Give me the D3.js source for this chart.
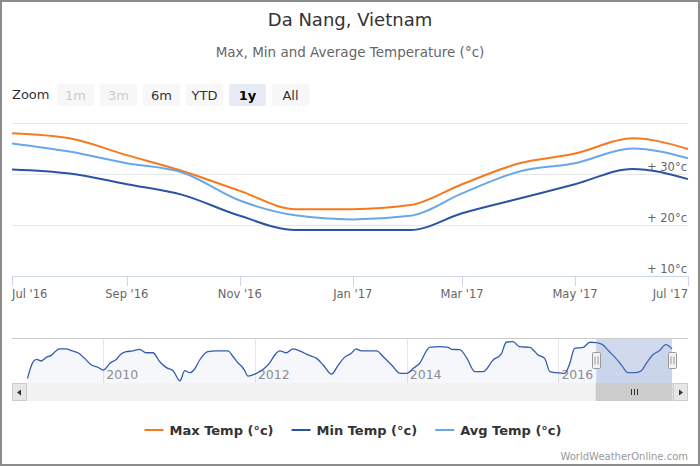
<!DOCTYPE html>
<html>
<head>
<meta charset="utf-8">
<script src="https://cdn.jsdelivr.net/npm/d3@7/dist/d3.min.js"></script>
<style>
  html, body { margin: 0; padding: 0; background: #fff; }
  svg { display: block; font-family: "DejaVu Sans", sans-serif; }
</style>
</head>
<body>
<div id="chart"></div>
<script>
// monthly points shown in the main chart (1y zoom)
const months = ["2016-07-01", "2016-08-01", "2016-09-01", "2016-10-01", "2016-11-01", "2016-12-01",
    "2017-01-01", "2017-02-01", "2017-03-01", "2017-04-01", "2017-05-01", "2017-06-01", "2017-07-01"];
const maxTemp = [38.0, 37.0, 33.7, 30.6, 26.7, 23.1, 23.1, 23.9, 28.0, 32.1, 34.0, 37.0, 34.9];
const minTemp = [30.9, 30.1, 28.0, 25.9, 21.8, 19.0, 19.0, 19.0, 22.3, 25.2, 28.0, 31.0, 29.0];
const avgTemp = [36.0, 34.4, 32.1, 30.3, 24.8, 21.9, 21.1, 21.8, 26.2, 30.5, 32.1, 35.0, 33.1];

// older max temp history, only seen in the navigator
const navDates = ["2009-01-01", "2009-01-28", "2009-02-14", "2009-03-08", "2009-04-01", "2009-04-25",
    "2009-05-19", "2009-06-04", "2009-07-06", "2009-08-01", "2009-09-01", "2009-10-03", "2009-11-05",
    "2009-12-06", "2010-01-01", "2010-02-02", "2010-03-04", "2010-03-28", "2010-04-21", "2010-05-23",
    "2010-06-24", "2010-07-26", "2010-08-28", "2010-09-30", "2010-11-01", "2010-12-03", "2011-01-05",
    "2011-01-28", "2011-02-22", "2011-03-16", "2011-04-10", "2011-05-19", "2011-06-28", "2011-08-24",
    "2011-09-18", "2011-10-13", "2011-10-28", "2011-11-13", "2011-11-28", "2012-01-01", "2012-02-10",
    "2012-03-12", "2012-04-06", "2012-04-30", "2012-06-01", "2012-07-02", "2012-08-12", "2012-09-13",
    "2012-10-24", "2012-11-25", "2013-01-04", "2013-02-05", "2013-03-07", "2013-04-09", "2013-05-01",
    "2013-05-28", "2013-08-09", "2013-09-10", "2013-10-20", "2013-12-01", "2014-01-01", "2014-02-02",
    "2014-03-04", "2014-04-21", "2014-06-09", "2014-07-19", "2014-08-04", "2014-09-13", "2014-10-15",
    "2014-11-25", "2015-01-03", "2015-02-21", "2015-04-01", "2015-04-25", "2015-05-27", "2015-06-28",
    "2015-08-16", "2015-09-25", "2015-10-27", "2015-11-21", "2015-12-22", "2016-02-01", "2016-02-25",
    "2016-03-19", "2016-04-30", "2016-06-01"];
const navValues = [20.3, 28.5, 29.7, 28.9, 30.7, 31.7,
    34.0, 34.9, 34.9, 34.0, 33.0, 30.2, 26.9,
    25.8, 24.4, 27.8, 29.7, 32.4, 33.5, 33.9,
    34.7, 33.0, 33.0, 28.5, 25.6, 24.1, 19.1,
    24.1, 23.1, 24.8, 29.4, 33.5, 33.9, 33.9,
    31.0, 27.8, 26.4, 24.1, 21.4, 22.4, 24.8,
    28.0, 31.9, 33.9, 33.0, 34.9, 33.5, 31.9,
    30.2, 26.9, 22.4, 26.9, 30.7, 32.7, 34.9,
    33.9, 33.9, 31.0, 26.9, 22.8, 22.8, 25.3,
    27.8, 35.7, 36.0, 35.7, 34.7, 34.5, 30.7,
    23.6, 23.6, 29.4, 32.4, 38.2, 38.5, 36.0,
    35.7, 31.9, 30.2, 23.6, 23.1, 22.8, 27.8,
    35.2, 35.7, 38.2];

const zoomButtons = ["1m", "3m", "6m", "YTD", "1y", "All"];
const disabledButtons = ["1m", "3m"];
const selectedButton = "1y";
const yTicks = [10, 20, 30, 40];

const seriesList = [
    {name: "Max Temp (°c)", color: "#f7781e", values: maxTemp},
    {name: "Min Temp (°c)", color: "#2a54a3", values: minTemp},
    {name: "Avg Temp (°c)", color: "#68a7ec", values: avgTemp}
];

const width = 700, height = 466;
const plotLeft = 12, plotRight = 688, plotTop = 123, plotBottom = 276;
const navTop = 338, navBottom = 383, scrollBottom = 401;

const parse = d3.utcParse("%Y-%m-%d");
const monthDates = months.map(parse);

const svg = d3.select("#chart").append("svg")
    .attr("width", width).attr("height", height);

svg.append("rect")
    .attr("width", width).attr("height", height)
    .attr("fill", "#fff");

// titles
svg.append("text")
    .attr("x", width / 2).attr("y", 26)
    .attr("text-anchor", "middle")
    .attr("font-size", 18).attr("fill", "#333")
    .text("Da Nang, Vietnam");

svg.append("text")
    .attr("x", width / 2).attr("y", 57)
    .attr("text-anchor", "middle")
    .attr("font-size", 13.5).attr("fill", "#666")
    .text("Max, Min and Average Temperature (°c)");

// range selector
svg.append("text")
    .attr("x", 12).attr("y", 99)
    .attr("font-size", 13).attr("fill", "#333")
    .text("Zoom");

const btn = svg.append("g").selectAll("g")
    .data(zoomButtons)
    .join("g")
    .attr("transform", (d, i) => `translate(${57 + i * 43},84)`);

btn.append("rect")
    .attr("width", 37).attr("height", 22).attr("rx", 2)
    .attr("fill", d => d === selectedButton ? "#e6ebf5" : "#f7f7f7");

btn.append("text")
    .attr("x", 18.5).attr("y", 15.5)
    .attr("text-anchor", "middle")
    .attr("font-size", 13)
    .attr("font-weight", d => d === selectedButton ? "bold" : "normal")
    .attr("fill", d => disabledButtons.includes(d) ? "#cccccc" : (d === selectedButton ? "#000" : "#333"))
    .text(d => d);

// main chart
const x = d3.scaleUtc()
    .domain([monthDates[0], monthDates[monthDates.length - 1]])
    .range([plotLeft, plotRight]);

const y = d3.scaleLinear()
    .domain([10, 40])
    .range([plotBottom, plotTop]);

svg.append("g").selectAll("line")
    .data(yTicks.slice(1))
    .join("line")
    .attr("x1", plotLeft).attr("x2", plotRight)
    .attr("y1", d => y(d) + 0.5).attr("y2", d => y(d) + 0.5)
    .attr("stroke", "#e6e6e6");

svg.append("g").selectAll("text")
    .data(yTicks.slice(0, 3))
    .join("text")
    .attr("x", plotRight - 1).attr("y", d => y(d) - 3.5)
    .attr("text-anchor", "end")
    .attr("font-size", 11.5).attr("fill", "#666")
    .text(d => `+ ${d}°c`);

const xTicks = x.ticks(d3.utcMonth.every(2));
const xAxis = svg.append("g");
xAxis.append("line")
    .attr("x1", plotLeft).attr("x2", plotRight)
    .attr("y1", plotBottom + 0.5).attr("y2", plotBottom + 0.5)
    .attr("stroke", "#ccd6eb");
xAxis.selectAll("line.tick")
    .data(xTicks)
    .join("line")
    .attr("class", "tick")
    .attr("x1", d => Math.round(x(d)) + 0.5).attr("x2", d => Math.round(x(d)) + 0.5)
    .attr("y1", plotBottom).attr("y2", plotBottom + 10)
    .attr("stroke", "#ccd6eb");
const fmt = d3.utcFormat("%b '%y");
xAxis.selectAll("text")
    .data(xTicks)
    .join("text")
    .attr("x", d => x(d)).attr("y", 298)
    .attr("text-anchor", (d, i) => i === 0 ? "start" : (i === xTicks.length - 1 ? "end" : "middle"))
    .attr("font-size", 11.5).attr("fill", "#666")
    .text(d => fmt(d));

const line = d3.line()
    .x((d, i) => x(monthDates[i]))
    .y(d => y(d))
    .curve(d3.curveMonotoneX);

svg.append("g").selectAll("path")
    .data(seriesList)
    .join("path")
    .attr("d", d => line(d.values))
    .attr("fill", "none")
    .attr("stroke", d => d.color)
    .attr("stroke-width", 2)
    .attr("stroke-linejoin", "round");

// navigator
const navData = navDates.map((d, i) => ({date: parse(d), value: navValues[i]}))
    .concat(monthDates.map((d, i) => ({date: d, value: maxTemp[i]})));

const nx = d3.scaleUtc()
    .domain(d3.extent(navData, d => d.date))
    .range([27.5, 672]);
const ny = d3.scaleLinear()
    .domain([18, 40.3])
    .range([navBottom, navTop]);

const nav = svg.append("g");

nav.selectAll("line.grid")
    .data(nx.ticks(d3.utcYear.every(2)))
    .join("line")
    .attr("class", "grid")
    .attr("x1", d => Math.round(nx(d)) + 0.5).attr("x2", d => Math.round(nx(d)) + 0.5)
    .attr("y1", navTop).attr("y2", navBottom)
    .attr("stroke", "#e6e6e6");

nav.selectAll("text")
    .data(nx.ticks(d3.utcYear.every(2)))
    .join("text")
    .attr("x", d => nx(d) + 3).attr("y", 379)
    .attr("font-size", 12.5).attr("fill", "#909090")
    .text(d => d.getUTCFullYear());

nav.append("path")
    .datum(navData)
    .attr("d", d3.area()
        .x(d => nx(d.date))
        .y0(navBottom)
        .y1(d => ny(d.value))
        .curve(d3.curveMonotoneX))
    .attr("fill", "#335cad")
    .attr("fill-opacity", 0.05);

nav.append("path")
    .datum(navData)
    .attr("d", d3.line()
        .x(d => nx(d.date))
        .y(d => ny(d.value))
        .curve(d3.curveMonotoneX))
    .attr("fill", "none")
    .attr("stroke", "#335cad")
    .attr("stroke-width", 1.3);

const selStart = nx(x.domain()[0]), selEnd = nx(x.domain()[1]);

nav.append("rect")
    .attr("x", selStart).attr("y", navTop)
    .attr("width", selEnd - selStart).attr("height", navBottom - navTop)
    .attr("fill", "rgba(102,133,194,0.3)");

nav.append("line")
    .attr("x1", plotLeft).attr("x2", plotRight)
    .attr("y1", navTop + 0.5).attr("y2", navTop + 0.5)
    .attr("stroke", "#cccccc");

const handles = nav.selectAll("g.handle")
    .data([selStart, selEnd])
    .join("g")
    .attr("class", "handle")
    .attr("transform", d => `translate(${Math.round(d) + 0.5},352.5)`);
handles.append("rect")
    .attr("x", -4).attr("y", 0).attr("width", 8).attr("height", 16).attr("rx", 1)
    .attr("fill", "#f2f2f2").attr("stroke", "#999999");
handles.selectAll("line")
    .data([-1.5, 1.5])
    .join("line")
    .attr("x1", d => d).attr("x2", d => d)
    .attr("y1", 4).attr("y2", 12)
    .attr("stroke", "#999999");

// scrollbar
const sb = svg.append("g");
sb.append("rect")
    .attr("x", plotLeft).attr("y", navBottom)
    .attr("width", plotRight - plotLeft).attr("height", scrollBottom - navBottom)
    .attr("fill", "#f2f2f2");
sb.append("rect")
    .attr("x", selStart).attr("y", navBottom + 0.5)
    .attr("width", selEnd - selStart).attr("height", scrollBottom - navBottom - 1)
    .attr("fill", "#cccccc").attr("stroke", "#cccccc");
const gx = (selStart + selEnd) / 2;
sb.selectAll("line.grip")
    .data([-3, 0, 3])
    .join("line")
    .attr("class", "grip")
    .attr("x1", d => Math.round(gx + d) + 0.5).attr("x2", d => Math.round(gx + d) + 0.5)
    .attr("y1", navBottom + 6).attr("y2", scrollBottom - 6)
    .attr("stroke", "#333");
const arrows = sb.selectAll("g.arrow")
    .data([{x: plotLeft, dir: -1}, {x: plotRight - 15, dir: 1}])
    .join("g")
    .attr("class", "arrow")
    .attr("transform", d => `translate(${d.x},${navBottom})`);
arrows.append("rect")
    .attr("x", 0.5).attr("y", 0.5).attr("width", 14).attr("height", scrollBottom - navBottom - 1)
    .attr("fill", "#e6e6e6").attr("stroke", "#cccccc");
arrows.append("path")
    .attr("d", d => d.dir < 0 ? "M9,6.5 L5,9.5 L9,12.5 Z" : "M6,6.5 L10,9.5 L6,12.5 Z")
    .attr("fill", "#333");

// legend
const legend = svg.append("g");
const items = legend.selectAll("g")
    .data(seriesList)
    .join("g");
items.append("line")
    .attr("x1", 0).attr("x2", 19)
    .attr("y1", 430).attr("y2", 430)
    .attr("stroke", d => d.color).attr("stroke-width", 2);
items.append("text")
    .attr("x", 25).attr("y", 435)
    .attr("font-size", 13).attr("font-weight", "bold").attr("fill", "#333")
    .text(d => d.name);
const widths = [];
items.each(function () { widths.push(this.getBBox().width); });
const gap = 18;
const total = d3.sum(widths) + gap * (widths.length - 1);
let cursor = 353 - total / 2;
items.attr("transform", (d, i) => {
    const t = `translate(${cursor},0)`;
    cursor += widths[i] + gap;
    return t;
});

svg.append("text")
    .attr("x", plotRight).attr("y", 460)
    .attr("text-anchor", "end")
    .attr("font-size", 10).attr("fill", "#999")
    .text("WorldWeatherOnline.com");

// frame
svg.append("rect")
    .attr("x", 1).attr("y", 1)
    .attr("width", width - 2).attr("height", height - 2)
    .attr("fill", "none")
    .attr("stroke", "#8c8c8c").attr("stroke-width", 2);
</script>
</body>
</html>
